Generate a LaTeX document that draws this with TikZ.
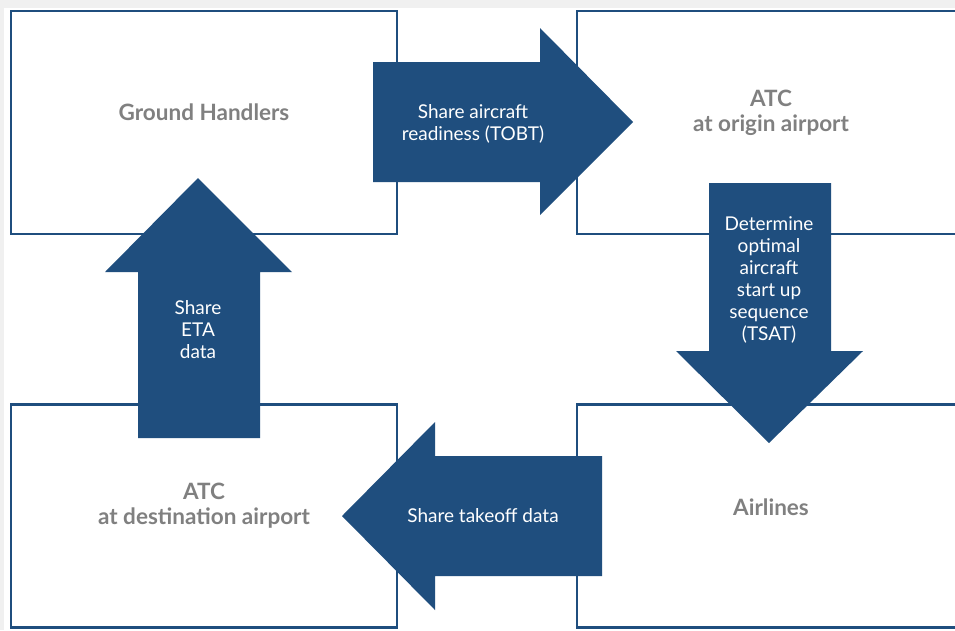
\documentclass[tikz,border=0pt]{standalone}
\usepackage{fontspec}
\setmainfont{Lato}
\definecolor{flowblue}{RGB}{31,78,126}
\definecolor{labelgray}{RGB}{128,128,128}
\definecolor{pagegray}{RGB}{240,240,240}
\tikzset{
	party/.style={draw=flowblue,line width=2.5pt,minimum width=386pt,minimum height=223pt,inner sep=0pt},
	partytext/.style={text=labelgray,font=\bfseries\fontsize{22.5}{25}\selectfont,align=center},
	flowarrow/.style={fill=flowblue},
	flowtext/.style={text=white,font=\fontsize{19}{22}\selectfont,align=center}
}
\begin{document}
\begin{tikzpicture}[x=1pt,y=-1pt]
		\useasboundingbox (0,0) rectangle (955,630);
		\fill[pagegray] (0,0) rectangle (955,630);
		\fill[white] (4,8) rectangle (955,630);
		\clip (0,0) rectangle (955,630);
		% the four parties
		\node[party] (GH) at (204,122.5) {};
		\node[party,minimum width=388pt] (AO) at (771,122.5) {};
		\node[party] (AD) at (204,516) {};
		\node[party,minimum width=388pt] (AL) at (771,516) {};
		\node[partytext] (GHt) at ([yshift=10pt]GH.center) {Ground Handlers};
		\node[partytext] (AOt) at ([yshift=10pt]AO.center) {ATC\\at origin airport};
		\node[partytext] (ADt) at ([yshift=10pt]AD.center) {ATC\\at destination airport};
		\node[partytext] (ALt) at ([yshift=9pt]AL.center) {Airlines};
		% block arrows
		\fill[flowarrow] (373,62) -- (540,62) -- (540,28) -- (633,122) -- (540,215) -- (540,182) -- (373,182) -- cycle;
		\fill[flowarrow] (709,183) -- (831,183) -- (831,351) -- (863,351) -- (769,443) -- (676,351) -- (709,351) -- cycle;
		\fill[flowarrow] (602,456) -- (435,456) -- (435,422) -- (342,516) -- (435,610) -- (435,576) -- (602,576) -- cycle;
		\fill[flowarrow] (138,438) -- (138,272) -- (105,272) -- (198,178) -- (292,272) -- (260,272) -- (260,438) -- cycle;
		\node[flowtext] (TOBT) at (473,124) {Share aircraft\\readiness (TOBT)};
		\node[flowtext] (TSAT) at (769,280) {Determine\\optimal\\aircraft\\start up\\sequence\\(TSAT)};
		\node[flowtext] (TKOF) at (483,516) {Share takeoff data};
		\node[flowtext] (ETA) at (198,330) {Share\\ETA\\data};
	\end{tikzpicture}
\end{document}
